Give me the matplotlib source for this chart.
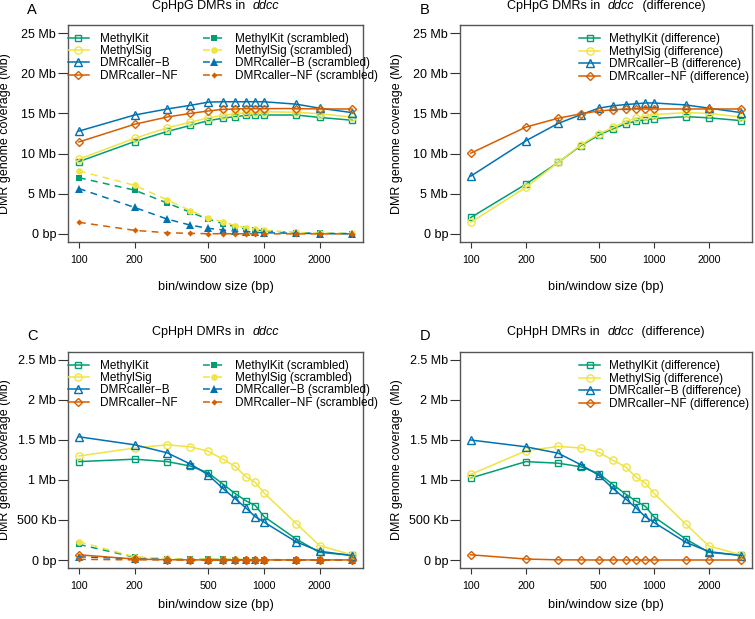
import matplotlib
matplotlib.use("Agg")
import matplotlib.pyplot as plt
import numpy as np
from matplotlib.offsetbox import TextArea, HPacker, AnchoredOffsetbox

plt.rcParams['font.family'] = ['Liberation Sans', 'DejaVu Sans']

bins = [100, 200, 300, 400, 500, 600, 700, 800, 900, 1000, 1500, 2000, 3000]
methods = ["MethylKit", "MethylSig", "DMRcaller\u2212B", "DMRcaller\u2212NF"]
colors = ["#009E73", "#F0E442", "#0072B2", "#D55E00"]
open_markers = ["s", "o", "^", "D"]
fill_markers = ["s", "o", "^", "D"]

# Panel A: CpHpG (Mb)
a_real = [
    [9.0, 11.5, 12.75, 13.5, 14.1, 14.4, 14.6, 14.75, 14.8, 14.8, 14.8, 14.5, 14.15],
    [9.3, 11.9, 13.2, 13.9, 14.45, 14.75, 14.95, 15.1, 15.15, 15.2, 15.15, 14.95, 14.55],
    [12.8, 14.8, 15.55, 16.0, 16.4, 16.45, 16.45, 16.45, 16.45, 16.45, 16.15, 15.65, 15.1],
    [11.45, 13.65, 14.55, 15.0, 15.3, 15.5, 15.55, 15.6, 15.6, 15.6, 15.6, 15.55, 15.55],
]
a_scr = [
    [7.0, 5.45, 3.85, 2.7, 1.85, 1.3, 0.9, 0.6, 0.5, 0.4, 0.15, 0.08, 0.05],
    [7.85, 6.05, 4.25, 2.9, 2.0, 1.5, 1.05, 0.75, 0.6, 0.45, 0.2, 0.1, 0.08],
    [5.65, 3.3, 1.85, 1.1, 0.7, 0.5, 0.35, 0.3, 0.2, 0.15, 0.08, 0.05, 0.02],
    [1.45, 0.45, 0.15, 0.08, 0.03, 0.03, 0.02, 0.02, 0.02, 0.02, 0.01, 0.01, 0.01],
]
# Panel B: CpHpG difference (Mb)
b_diff = [
    [2.05, 6.2, 8.9, 11.0, 12.3, 13.1, 13.7, 14.05, 14.2, 14.35, 14.6, 14.45, 14.1],
    [1.45, 5.8, 8.9, 11.1, 12.45, 13.25, 14.0, 14.4, 14.7, 14.85, 15.1, 15.0, 14.55],
    [7.2, 11.6, 13.75, 14.85, 15.65, 15.95, 16.1, 16.2, 16.3, 16.3, 16.05, 15.65, 15.1],
    [10.05, 13.3, 14.4, 14.95, 15.3, 15.45, 15.55, 15.55, 15.55, 15.55, 15.55, 15.55, 15.55],
]
# Panel C: CpHpH (Mb)
c_real = [
    [1.23, 1.26, 1.23, 1.175, 1.09, 0.95, 0.83, 0.74, 0.68, 0.545, 0.26, 0.095, 0.06],
    [1.30, 1.40, 1.44, 1.415, 1.36, 1.26, 1.17, 1.04, 0.97, 0.84, 0.455, 0.18, 0.065],
    [1.54, 1.44, 1.34, 1.20, 1.065, 0.895, 0.765, 0.65, 0.54, 0.475, 0.225, 0.11, 0.055],
    [0.065, 0.012, 0.003, 0.002, 0.001, 0.001, 0.001, 0.001, 0.001, 0.001, 0.001, 0.001, 0.001],
]
c_scr = [
    [0.195, 0.035, 0.015, 0.01, 0.008, 0.007, 0.006, 0.005, 0.005, 0.004, 0.003, 0.002, 0.002],
    [0.23, 0.04, 0.02, 0.012, 0.01, 0.008, 0.007, 0.006, 0.005, 0.005, 0.003, 0.002, 0.002],
    [0.04, 0.015, 0.006, 0.004, 0.003, 0.002, 0.002, 0.002, 0.002, 0.001, 0.001, 0.001, 0.001],
    [0.008, 0.002, 0.001, 0.001, 0.0, 0.0, 0.0, 0.0, 0.0, 0.0, 0.0, 0.0, 0.0],
]
# Panel D: CpHpH difference (Mb)
d_diff = [
    [1.025, 1.23, 1.21, 1.165, 1.08, 0.94, 0.825, 0.735, 0.67, 0.54, 0.26, 0.095, 0.06],
    [1.07, 1.365, 1.42, 1.40, 1.345, 1.245, 1.165, 1.035, 0.96, 0.835, 0.445, 0.175, 0.065],
    [1.50, 1.415, 1.335, 1.19, 1.06, 0.89, 0.765, 0.65, 0.54, 0.47, 0.22, 0.105, 0.055],
    [0.065, 0.012, 0.002, 0.001, 0.0, 0.0, 0.0, 0.0, 0.0, 0.0, 0.0, 0.0, 0.0],
]

xticks = [100, 200, 500, 1000, 2000]
top_yticks = [0, 5, 10, 15, 20, 25]
top_ylabels = ["0 bp", "5 Mb", "10 Mb", "15 Mb", "20 Mb", "25 Mb"]
bot_yticks = [0, 0.5, 1, 1.5, 2, 2.5]
bot_ylabels = ["0 bp", "500 Kb", "1 Mb", "1.5 Mb", "2 Mb", "2.5 Mb"]

W, H = 755, 619
fig = plt.figure(figsize=(W / 100, H / 100), dpi=100)

def px_axes(l, t, r, b):
    ax = fig.add_axes([l / W, (H - b) / H, (r - l) / W, (b - t) / H])
    ax._px = (l, t, r, b)
    return ax

frame_col = "#555555"

def style(ax, yt, yl, ymax, xlab_off):
    l, t, r, b = ax._px
    w, h = r - l, b - t
    ax.set_xscale("log")
    lo, hi = np.log10(100), np.log10(3000)
    pad = 0.04 * (hi - lo)
    ax.set_xlim(10 ** (lo - pad), 10 ** (hi + pad))
    ax.set_ylim(-0.04 * ymax, ymax * 1.04)
    ax.set_xticks(xticks)
    ax.set_xticklabels([str(v) for v in xticks], fontsize=7.7)
    ax.xaxis.set_minor_locator(matplotlib.ticker.NullLocator())
    ax.set_yticks(yt)
    ax.set_yticklabels(yl, fontsize=9)
    ax.tick_params(axis="y", direction="out", length=7.5, width=0.8, color="#333333", pad=1)
    ax.tick_params(axis="x", direction="out", length=4.5, width=0.8, color="#333333", pad=5)
    for s in ax.spines.values():
        s.set_color(frame_col)
        s.set_linewidth(1.0)
    ax.text(0.5, -xlab_off / h, "bin/window size (bp)", transform=ax.transAxes,
            fontsize=9.2, ha="center", va="center")
    ax.text(-63 / w, 0.5, "DMR genome coverage (Mb)", transform=ax.transAxes,
            fontsize=9, ha="center", va="center", rotation=90)

def title(ax, base, suffix, dy):
    l, t, r, b = ax._px
    h = b - t
    parts = [TextArea(base + " ", textprops=dict(fontsize=9)),
             TextArea("ddcc", textprops=dict(fontsize=9, style="italic"))]
    if suffix:
        parts.append(TextArea(" " + suffix, textprops=dict(fontsize=9)))
    box = HPacker(children=parts, align="baseline", pad=0, sep=3)
    ab = AnchoredOffsetbox(loc="lower center", child=box, pad=0, frameon=False,
                           bbox_to_anchor=(0.5, 1 + dy / h), bbox_transform=ax.transAxes,
                           borderpad=0)
    ax.add_artist(ab)

def letter(ax, s, x_px, dy):
    l, t, r, b = ax._px
    w, h = r - l, b - t
    ax.text((x_px - l) / w, 1 + dy / h, s, transform=ax.transAxes, fontsize=10.5,
            ha="left", va="baseline")

axA = px_axes(68, 25, 363, 242)
axB = px_axes(460, 25, 752, 242)
axC = px_axes(68, 352, 363, 568)
axD = px_axes(460, 352, 752, 568)

def plot_real(ax, data, suffix=""):
    hs = []
    sizes = {"s": 4.6, "o": 5.2, "^": 5.8, "D": 3.9}
    for i in range(4):
        h, = ax.plot(bins, data[i], color=colors[i], lw=1.1, marker=open_markers[i],
                     ms=sizes[open_markers[i]], mfc="none", mew=1.0,
                     label=methods[i] + suffix, zorder=3)
        hs.append(h)
    return hs

def plot_scr(ax, data):
    hs = []
    sizes = {"s": 4.6, "o": 4.8, "^": 5.2, "D": 3.1}
    for i in range(4):
        h, = ax.plot(bins, data[i], color=colors[i], lw=1.1, ls=(0, (4.5, 3.5)),
                     marker=fill_markers[i], ms=sizes[fill_markers[i]],
                     mew=0, label=methods[i] + " (scrambled)", zorder=2)
        hs.append(h)
    return hs

LEG_FS = 8.5

for ax, real, scr, ymax, yt, yl, xo in [(axA, a_real, a_scr, 25, top_yticks, top_ylabels, 45),
                                         (axC, c_real, c_scr, 2.5, bot_yticks, bot_ylabels, 37)]:
    hr = plot_real(ax, real)
    hsc = plot_scr(ax, scr)
    style(ax, yt, yl, ymax, xo)
    l, t, r, b = ax._px
    ax.legend(hr + hsc, [h.get_label() for h in hr + hsc], ncol=2, loc="upper left",
              bbox_to_anchor=(0.0, 1 - 8 / (b - t)), frameon=False, fontsize=LEG_FS,
              handlelength=1.75, handletextpad=0.95, columnspacing=2.2,
              labelspacing=0.02, borderaxespad=0.0, borderpad=0.0)

for ax, diff, ymax, yt, yl, xo in [(axB, b_diff, 25, top_yticks, top_ylabels, 45),
                                    (axD, d_diff, 2.5, bot_yticks, bot_ylabels, 37)]:
    hd = plot_real(ax, diff, " (difference)")
    style(ax, yt, yl, ymax, xo)
    l, t, r, b = ax._px
    ax.legend(hd, [h.get_label() for h in hd], loc="upper right",
              bbox_to_anchor=(1 - 3 / (r - l), 1 - 8 / (b - t)), frameon=False, fontsize=LEG_FS,
              handlelength=1.75, handletextpad=0.75, labelspacing=0.06,
              borderaxespad=0.0, borderpad=0.0)

title(axA, "CpHpG DMRs in", "", 13)
title(axB, "CpHpG DMRs in", "(difference)", 13)
title(axC, "CpHpH DMRs in", "", 14)
title(axD, "CpHpH DMRs in", "(difference)", 14)
letter(axA, "A", 27, 11)
letter(axB, "B", 420, 11)
letter(axC, "C", 27, 12)
letter(axD, "D", 420, 12)

fig.savefig("out.png", dpi=100)
